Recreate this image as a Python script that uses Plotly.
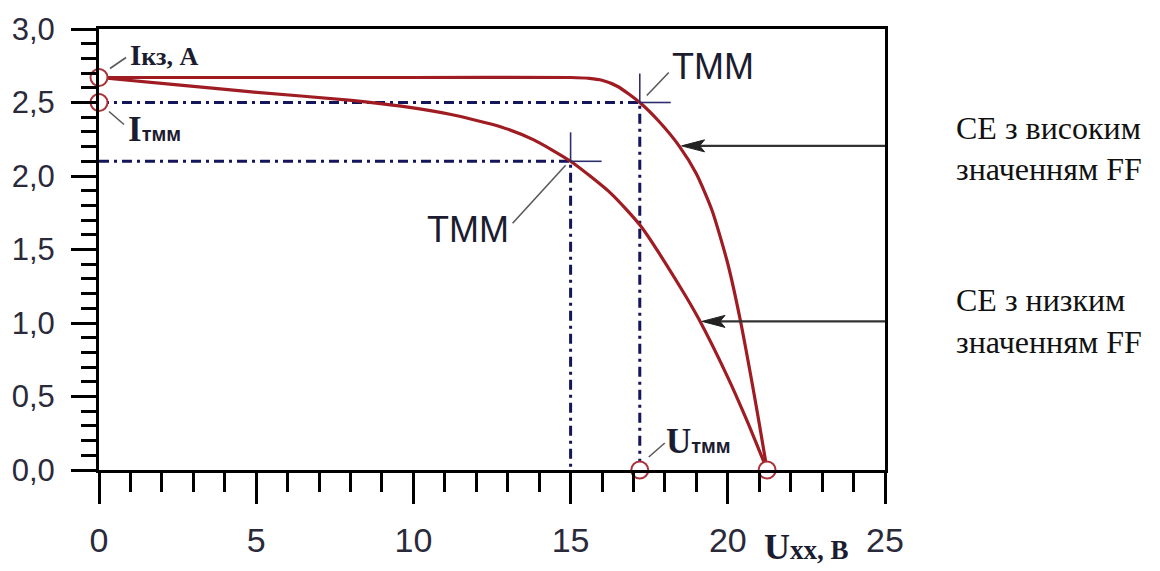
import plotly.graph_objects as go

# I-V characteristics of two solar cells (voltage, V; current, A)
voltage_high = [0, 5, 10, 15, 15.6, 16.0, 16.5, 17.2, 17.8, 18.45, 19.0, 19.5, 20.0, 20.4, 20.8, 21.0, 21.25]
current_high = [2.67, 2.67, 2.67, 2.67, 2.664, 2.651, 2.609, 2.50, 2.374, 2.205, 2.015, 1.765, 1.403, 1.017, 0.56, 0.316, 0.0]

voltage_low = [0, 2.5, 4.85, 8.03, 9.61, 11.2, 12.79, 13.83, 15.0, 16.28, 17.23, 18.5, 19.07, 20.0, 20.62, 21.25]
current_low = [2.67, 2.62, 2.572, 2.515, 2.475, 2.418, 2.334, 2.246, 2.10, 1.882, 1.66, 1.24, 1.03, 0.63, 0.33, 0.0]

# characteristic points
i_sc = 2.67          # short-circuit current
v_oc = 21.25         # open-circuit voltage
mpp_high = (17.2, 2.5)   # maximum power point, high FF
mpp_low = (15.0, 2.1)    # maximum power point, low FF

x_ticks = [0, 5, 10, 15, 20, 25]
x_tick_text = ["0", "5", "10", "15", "20", "25"]
y_ticks = [0.0, 0.5, 1.0, 1.5, 2.0, 2.5, 3.0]
y_tick_text = ["0,0", "0,5", "1,0", "1,5", "2,0", "2,5", "3,0"]

RED = "#9e1c22"
NAVY = "#15155c"
INK = "#1c1c30"
GREY = "#5a5a5a"
TICK_FONT = "Liberation Sans Narrow, Arial Narrow, Liberation Sans, sans-serif"
SERIF = "Liberation Serif, Times New Roman, serif"
SANS = "Liberation Sans, Arial, sans-serif"

fig = go.Figure()

# dash-dot guides from the maximum power points to the axes
for vx, iy in (mpp_high, mpp_low):
    fig.add_trace(go.Scatter(
        x=[0, vx, vx], y=[iy, iy, 0], mode="lines",
        line=dict(color=NAVY, width=3, dash="10px,5px,3px,5px"),
        hoverinfo="skip", showlegend=False))

# I-V curves
for vs, cs in ((voltage_high, current_high), (voltage_low, current_low)):
    fig.add_trace(go.Scatter(x=vs, y=cs, mode="lines",
                             line=dict(color=RED, width=3.2, shape="spline", smoothing=0.6),
                             cliponaxis=False, showlegend=False))

# open circles at Isc, Impp, Umpp, Uoc
fig.add_trace(go.Scatter(
    x=[0, 0, mpp_high[0], v_oc], y=[i_sc, mpp_high[1], 0, 0], mode="markers",
    marker=dict(size=17, color="white", line=dict(color="#a8343a", width=2)),
    cliponaxis=False, showlegend=False))

shapes = []


def px_line(ax, ay, x0, y0, x1, y1, color, width):
    shapes.append(dict(type="line", xref="x", yref="y",
                       xsizemode="pixel", ysizemode="pixel",
                       xanchor=ax, yanchor=ay, x0=x0, y0=y0, x1=x1, y1=y1,
                       line=dict(color=color, width=width)))


# small crosses at the maximum power points
for vx, iy in (mpp_high, mpp_low):
    px_line(vx, iy, 0, 0, 0, 29, "#2e2e6e", 1.6)
    px_line(vx, iy, 0, 0, 31, 0, "#2e2e6e", 1.6)

# leader lines to the labels
px_line(0, i_sc, 11, 9, 27, 20, GREY, 1.6)
px_line(0, mpp_high[1], 10, -9, 25, -22, GREY, 1.6)
px_line(mpp_high[0], 0, 9, 13, 25, 27, GREY, 1.6)
px_line(v_oc, 0, 6, -17, 13, -42, GREY, 1.6)
px_line(mpp_high[0], mpp_high[1], 7, 7, 29, 30, GREY, 1.6)
px_line(mpp_low[0], mpp_low[1], -5, -4, -58, -62, GREY, 1.6)

# pointer arrows from the right-hand captions
for tip_x, tip_y in ((18.53, 2.205), (19.18, 1.011)):
    px_line(tip_x, tip_y, 4, 0, 258, 0, "#333333", 2.2)
    shapes.append(dict(type="path", xref="x", yref="y",
                       xsizemode="pixel", ysizemode="pixel",
                       xanchor=tip_x, yanchor=tip_y,
                       path="M0,0 L23,6 L18,0 L23,-6 Z",
                       fillcolor="#222222", line=dict(color="#222222", width=1)))

annotations = []


def label(x, y, text, xshift, yshift, xanchor="left", size=30, family=SERIF):
    annotations.append(dict(x=x, y=y, xref="x", yref="y", text=text,
                            showarrow=False, xanchor=xanchor, yanchor="middle",
                            xshift=xshift, yshift=yshift,
                            font=dict(family=family, size=size, color=INK)))


label(0, i_sc, "<b>I<span style='font-size:26px'>кз, А</span></b>", 29, 23, size=29)
label(0, mpp_high[1], "<b>I<span style='font-size:20px;font-family:Liberation Sans'>тмм</span></b>",
      27, -27, size=35)
label(mpp_high[0], 0, "<b>U<span style='font-size:20px;font-family:Liberation Sans'>тмм</span></b>",
      24, 29, size=35)
label(v_oc, 0, "<b>U<span style='font-size:27px'>xx, B</span></b>", -5, -77, size=36)
label(mpp_high[0], mpp_high[1], "ТММ", 30, 36, size=36, family=SANS)
label(mpp_low[0], mpp_low[1], "ТММ", -60, -68, xanchor="right", size=36, family=SANS)

# captions at the right
for text, ypx in (("СЕ з високим", 131), ("значенням FF", 174),
                  ("СЕ з низким", 311), ("значенням FF", 354)):
    annotations.append(dict(x=(954 - 97) / 788, y=(488 - ypx) / 460,
                            xref="paper", yref="paper", text=text, showarrow=False,
                            xanchor="left", yanchor="middle",
                            font=dict(family=SERIF, size=32, color="#111111")))

axis_common = dict(showgrid=False, zeroline=False, showline=True, linecolor="black",
                   linewidth=3, mirror=True, ticks="outside", tickcolor="black",
                   tickwidth=3)

fig.update_layout(
    width=1160, height=571,
    margin=dict(l=97, r=275, t=28, b=83),
    paper_bgcolor="white", plot_bgcolor="white",
    shapes=shapes, annotations=annotations,
    xaxis=dict(range=[0, 25], tickvals=x_ticks, ticktext=x_tick_text, ticklen=31,
               ticklabelstandoff=7,
               tickfont=dict(family=TICK_FONT, size=34, color="#2a2a3a"),
               minor=dict(dtick=1, ticklen=19, tickwidth=3, tickcolor="black",
                          ticks="outside"),
               **axis_common),
    yaxis=dict(range=[0, 3], tickvals=y_ticks, ticktext=y_tick_text, ticklen=25,
               ticklabelstandoff=10,
               tickfont=dict(family=TICK_FONT, size=31, color="#2a2a3a"),
               minor=dict(dtick=0.1, ticklen=15, tickwidth=3, tickcolor="black",
                          ticks="outside"),
               **axis_common),
)

fig.write_html("out.html")
